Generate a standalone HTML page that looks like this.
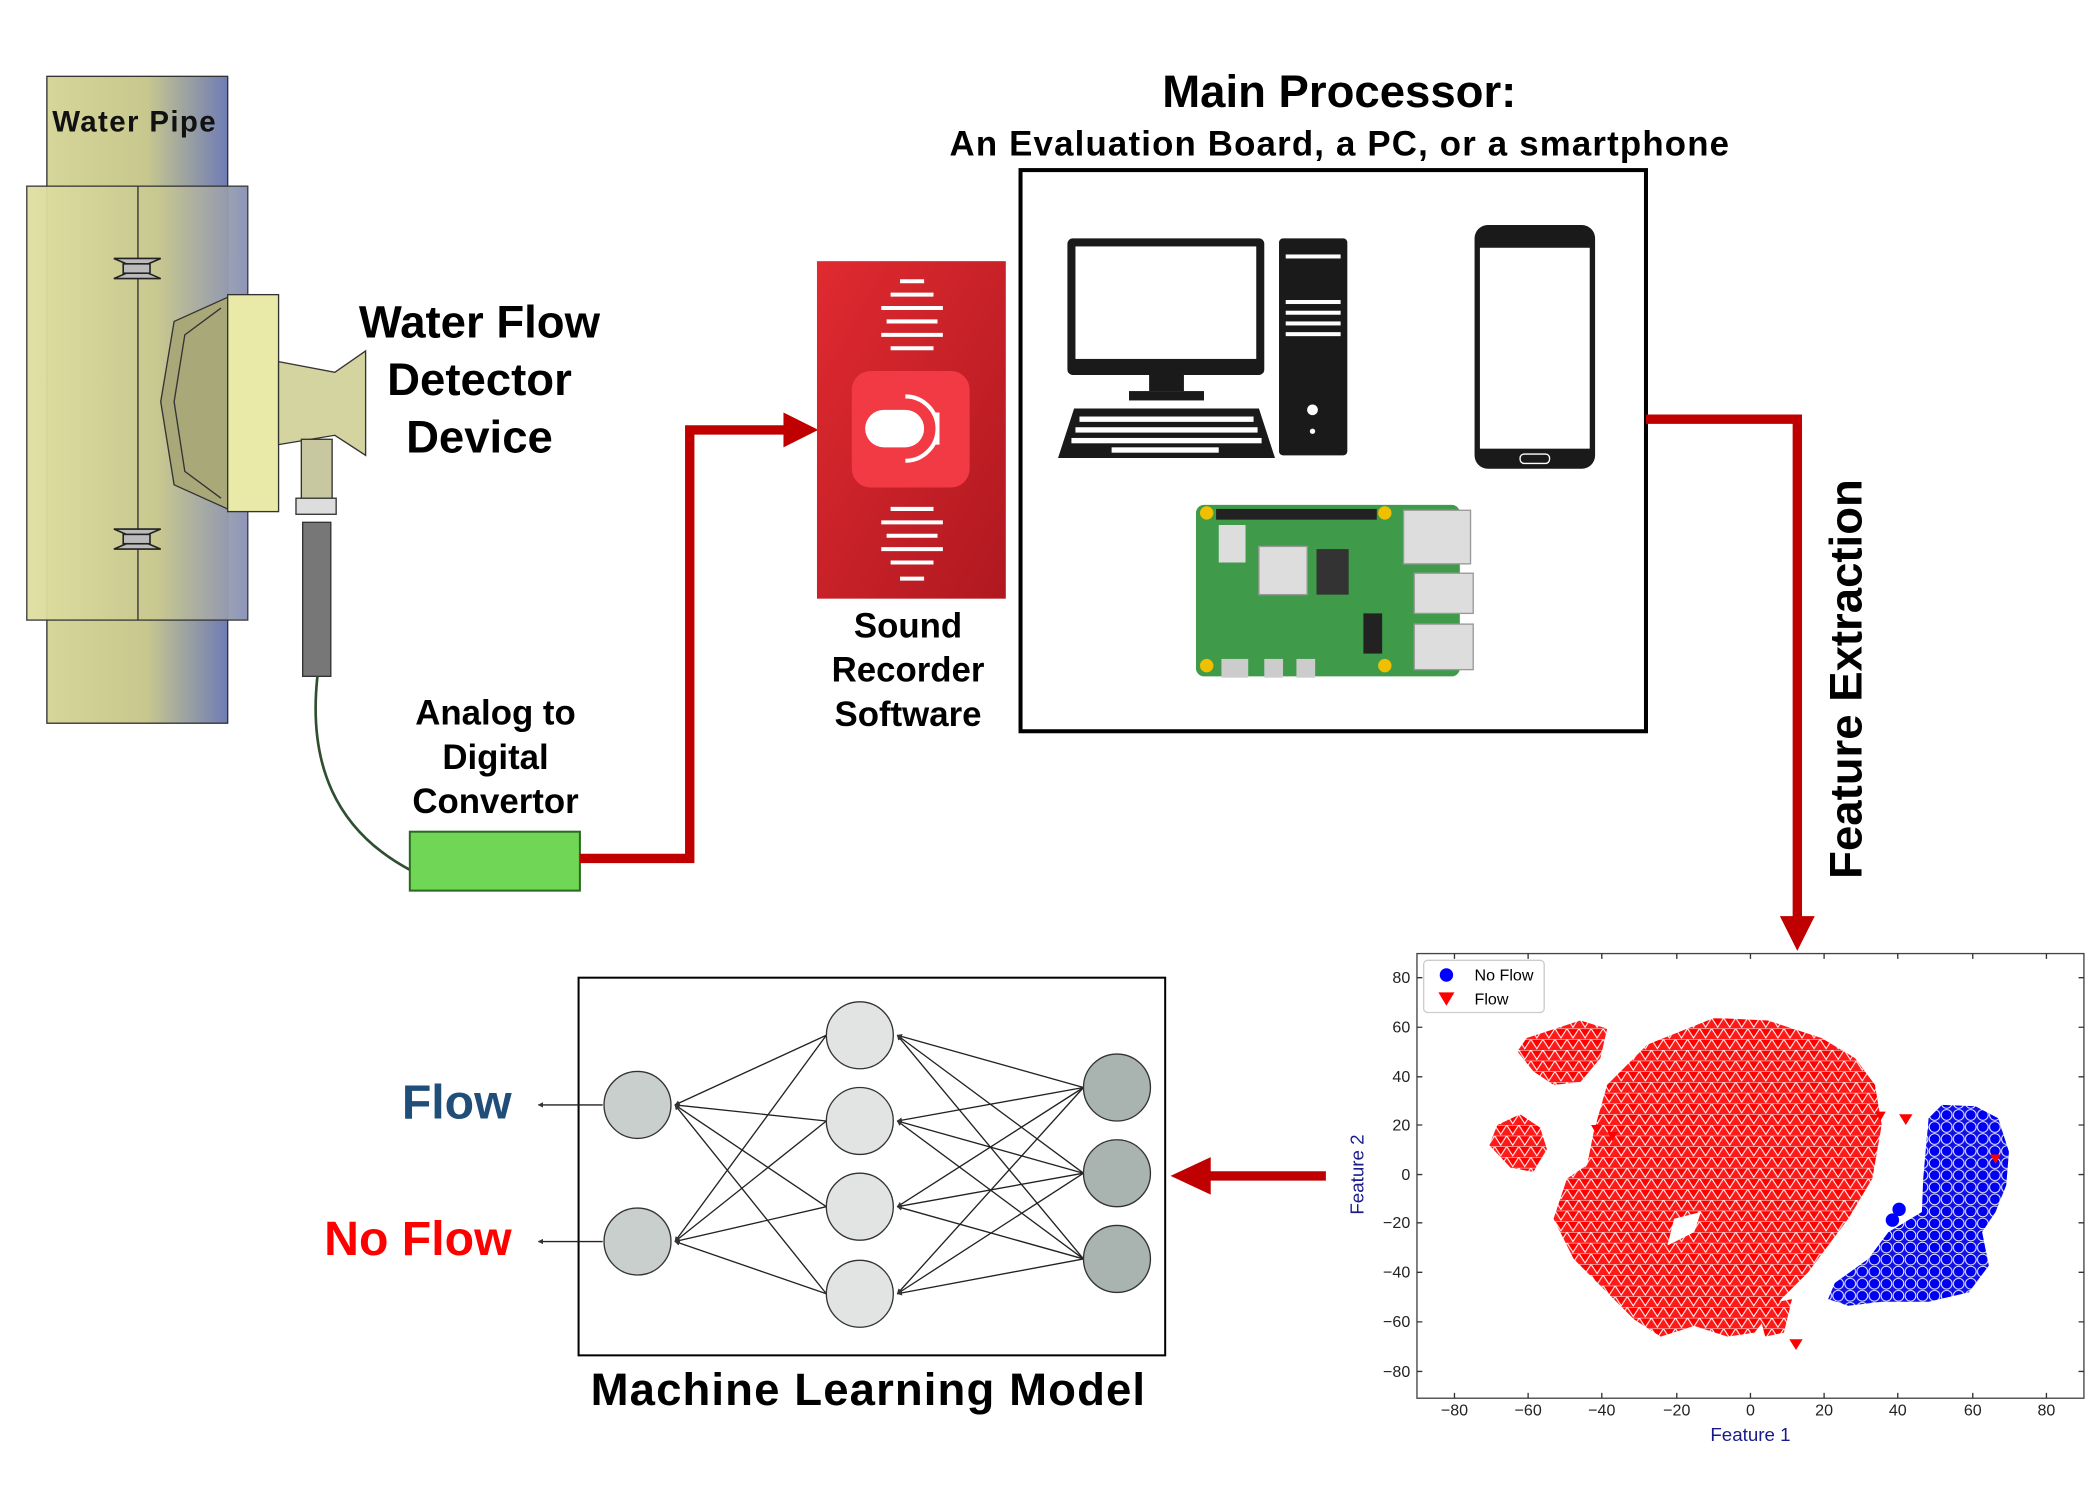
<!DOCTYPE html>
<html><head><meta charset="utf-8"><style>
html,body{margin:0;padding:0;background:#fff;}
svg{display:block;}
text{font-family:"Liberation Sans",Arial,sans-serif;}
</style></head><body>
<svg width="2100" height="1500" viewBox="0 0 1568 1120" preserveAspectRatio="none" xmlns="http://www.w3.org/2000/svg">
<defs>
<linearGradient id="pipe" x1="0" x2="1" y1="0" y2="0">
<stop offset="0" stop-color="#d6d69a"/><stop offset="0.55" stop-color="#c8c88e"/><stop offset="1" stop-color="#6f7cb5"/>
</linearGradient>
<linearGradient id="clamp" x1="0" x2="1"><stop offset="0" stop-color="#e0e0a2"/><stop offset="0.6" stop-color="#c8c890"/><stop offset="1" stop-color="#8890b8"/></linearGradient>
<linearGradient id="redbox" x1="0" x2="1" y1="0" y2="1"><stop offset="0" stop-color="#e02a30"/><stop offset="1" stop-color="#b01820"/></linearGradient>
<pattern id="tri" width="9" height="8" patternUnits="userSpaceOnUse">
<rect width="9" height="8" fill="#ff1a1a"/><path d="M0 0 L9 0 L4.5 7 Z" fill="#f00" stroke="#fff" stroke-width="0.8"/>
</pattern>
<pattern id="circ" width="9" height="9" patternUnits="userSpaceOnUse">
<rect width="9" height="9" fill="#1010e8"/><circle cx="4.5" cy="4.5" r="4" fill="#0000f0" stroke="#fff" stroke-width="0.7"/>
</pattern>
<marker id="ah" markerWidth="4" markerHeight="4" refX="3.5" refY="2" orient="auto" markerUnits="strokeWidth"><path d="M0 0 L4 2 L0 4Z" fill="#333"/></marker>
</defs>

<!-- Water pipe -->
<rect x="35" y="57" width="135" height="483" fill="url(#pipe)" stroke="#333" stroke-width="1"/>
<rect x="20" y="139" width="165" height="324" fill="url(#clamp)" stroke="#333" stroke-width="1" opacity="0.95"/>
<line x1="103" y1="139" x2="103" y2="463" stroke="#333" stroke-width="1"/>
<text x="39" y="98" font-size="22" fill="#111" font-weight="bold" textLength="122">Water Pipe</text>
<g stroke="#222" fill="#bbb" stroke-width="1.2">
<path d="M85 193 L120 208 L85 208 L120 193 Z"/><rect x="92" y="197" width="20" height="7"/>
<path d="M85 395 L120 410 L85 410 L120 395 Z"/><rect x="92" y="399" width="20" height="7"/>
</g>
<!-- detector -->
<path d="M170 222 L130 240 L120 300 L130 362 L170 380 Z" fill="#a8a878" stroke="#333"/>
<path d="M165 230 L138 250 L130 300 L138 352 L165 372" fill="none" stroke="#333"/>
<rect x="170" y="220" width="38" height="162" fill="#eaeaa8" stroke="#333"/>
<path d="M208 270 L250 278 L273 262 L273 340 L250 325 L208 332 Z" fill="#d4d4a0" stroke="#333"/>
<rect x="225" y="328" width="23" height="52" fill="#c8c8a0" stroke="#333"/>
<rect x="221" y="372" width="30" height="12" fill="#ddd" stroke="#333"/>
<rect x="226" y="390" width="21" height="115" fill="#777" stroke="#333"/>
<path d="M237 505 C230 570 250 620 307 650" fill="none" stroke="#2f4f2f" stroke-width="2"/>
<text font-size="34" font-weight="bold" text-anchor="middle" fill="#000"><tspan x="358" y="252">Water Flow</tspan><tspan x="358" y="295">Detector</tspan><tspan x="358" y="338">Device</tspan></text>
<text font-size="26" font-weight="bold" text-anchor="middle" fill="#000"><tspan x="370" y="541">Analog to</tspan><tspan x="370" y="574">Digital</tspan><tspan x="370" y="607">Convertor</tspan></text>
<rect x="306" y="621" width="127" height="44" fill="#6fd656" stroke="#2a6a20" stroke-width="1.5"/>
<!-- red connector 1 -->
<polyline points="433,641 515,641 515,321 588,321" fill="none" stroke="#c00000" stroke-width="7"/>
<path d="M585 308 L611 321 L585 334 Z" fill="#c00000"/>
<!-- sound recorder -->
<rect x="610" y="195" width="141" height="252" fill="url(#redbox)"/>
<rect x="636" y="277" width="88" height="87" rx="14" fill="#f23a44"/>
<rect x="646" y="306" width="44" height="28" rx="14" fill="#fff"/>
<path d="M676 296 A22 22 0 0 1 676 344" fill="none" stroke="#fff" stroke-width="3"/>
<line x1="700" y1="308" x2="700" y2="332" stroke="#fff" stroke-width="3"/>
<g stroke="#fff" stroke-width="3">
<line x1="672" y1="210" x2="690" y2="210"/><line x1="665" y1="220" x2="697" y2="220"/><line x1="658" y1="230" x2="704" y2="230"/><line x1="662" y1="240" x2="700" y2="240"/><line x1="658" y1="250" x2="704" y2="250"/><line x1="665" y1="260" x2="697" y2="260"/>
<line x1="665" y1="380" x2="697" y2="380"/><line x1="658" y1="390" x2="704" y2="390"/><line x1="662" y1="400" x2="700" y2="400"/><line x1="658" y1="410" x2="704" y2="410"/><line x1="665" y1="420" x2="697" y2="420"/><line x1="672" y1="432" x2="690" y2="432"/>
</g>
<text font-size="26" font-weight="bold" text-anchor="middle" fill="#000"><tspan x="678" y="476">Sound</tspan><tspan x="678" y="509">Recorder</tspan><tspan x="678" y="542">Software</tspan></text>
<!-- main processor -->
<text x="1000" y="80" font-size="34" font-weight="bold" text-anchor="middle">Main Processor:</text>
<text x="1000" y="116" font-size="26" text-anchor="middle" font-weight="bold" textLength="582">An Evaluation Board, a PC, or a smartphone</text>
<rect x="762" y="127" width="467" height="419" fill="#fff" stroke="#000" stroke-width="3"/>
<rect x="797" y="178" width="147" height="102" rx="4" fill="#1a1a1a"/>
<rect x="803" y="184" width="135" height="84" fill="#fff"/>
<rect x="858" y="280" width="26" height="12" fill="#1a1a1a"/><rect x="843" y="292" width="56" height="7" fill="#1a1a1a"/>
<path d="M802 305 L940 305 L952 342 L790 342 Z" fill="#1a1a1a"/>
<g fill="#fff"><rect x="806" y="311" width="130" height="4"/><rect x="803" y="319" width="136" height="4"/><rect x="800" y="327" width="142" height="4"/><rect x="830" y="334" width="80" height="4"/></g>
<rect x="955" y="178" width="51" height="162" rx="3" fill="#1a1a1a"/>
<g fill="#fff"><rect x="960" y="190" width="41" height="3"/><rect x="960" y="224" width="41" height="3"/><rect x="960" y="232" width="41" height="3"/><rect x="960" y="240" width="41" height="3"/><rect x="960" y="248" width="41" height="3"/><circle cx="980" cy="306" r="4"/><circle cx="980" cy="322" r="2"/></g>
<rect x="1101" y="168" width="90" height="182" rx="10" fill="#1a1a1a"/>
<rect x="1105" y="185" width="82" height="150" fill="#fff"/>
<rect x="1135" y="339" width="22" height="7" rx="3" fill="none" stroke="#fff"/>
<rect x="893" y="377" width="197" height="128" rx="6" fill="#3f9a4a"/>
<rect x="908" y="380" width="120" height="8" fill="#222"/>
<rect x="940" y="408" width="36" height="36" fill="#ddd" stroke="#999"/>
<rect x="983" y="410" width="24" height="34" fill="#333"/>
<rect x="1048" y="381" width="50" height="40" fill="#ddd" stroke="#999"/>
<rect x="1056" y="428" width="44" height="30" fill="#ddd" stroke="#999"/>
<rect x="1056" y="466" width="44" height="34" fill="#ddd" stroke="#999"/>
<rect x="910" y="392" width="20" height="28" fill="#ddd"/>
<rect x="1018" y="458" width="14" height="30" fill="#222"/>
<g fill="#f0c000"><circle cx="901" cy="383" r="5"/><circle cx="1034" cy="383" r="5"/><circle cx="901" cy="497" r="5"/><circle cx="1034" cy="497" r="5"/></g>
<g fill="#ccc"><rect x="912" y="492" width="20" height="14"/><rect x="944" y="492" width="14" height="14"/><rect x="968" y="492" width="14" height="14"/></g>
<!-- red connector 2 -->
<polyline points="1229,313 1342,313 1342,688" fill="none" stroke="#c00000" stroke-width="7"/>
<path d="M1329 684 L1342 710 L1355 684 Z" fill="#c00000"/>
<text transform="translate(1390,507) rotate(-90)" font-size="34" font-weight="bold" text-anchor="middle">Feature Extraction</text>
<!-- scatter -->
<rect x="1058" y="712" width="498" height="332" fill="#fff" stroke="#444" stroke-width="1"/>
<g stroke="#333" stroke-width="1">
<path d="M1086 1044v-4M1141 1044v-4M1196 1044v-4M1252 1044v-4M1307 1044v-4M1362 1044v-4M1417 1044v-4M1473 1044v-4M1528 1044v-4"/>
<path d="M1086 712v4M1141 712v4M1196 712v4M1252 712v4M1307 712v4M1362 712v4M1417 712v4M1473 712v4M1528 712v4"/>
<path d="M1058 730h4M1058 767h4M1058 804h4M1058 840h4M1058 877h4M1058 913h4M1058 950h4M1058 987h4M1058 1024h4"/>
<path d="M1556 730h-4M1556 767h-4M1556 804h-4M1556 840h-4M1556 877h-4M1556 913h-4M1556 950h-4M1556 987h-4M1556 1024h-4"/>
</g>
<g font-size="12" fill="#222" text-anchor="middle">
<text x="1086" y="1057">−80</text><text x="1141" y="1057">−60</text><text x="1196" y="1057">−40</text><text x="1252" y="1057">−20</text><text x="1307" y="1057">0</text><text x="1362" y="1057">20</text><text x="1417" y="1057">40</text><text x="1473" y="1057">60</text><text x="1528" y="1057">80</text>
</g>
<g font-size="12" fill="#222" text-anchor="end">
<text x="1053" y="734">80</text><text x="1053" y="771">60</text><text x="1053" y="808">40</text><text x="1053" y="844">20</text><text x="1053" y="881">0</text><text x="1053" y="917">−20</text><text x="1053" y="954">−40</text><text x="1053" y="991">−60</text><text x="1053" y="1028">−80</text>
</g>
<text x="1307" y="1076" font-size="14" fill="#1a1a8c" text-anchor="middle">Feature 1</text>
<text transform="translate(1018,877) rotate(-90)" font-size="14" fill="#1a1a8c" text-anchor="middle">Feature 2</text>
<rect x="1063" y="717" width="90" height="39" rx="3" fill="#fff" stroke="#ccc"/>
<circle cx="1080" cy="728" r="5" fill="#00f"/><path d="M1074 741 L1086 741 L1080 751 Z" fill="#f00"/>
<text x="1101" y="732" font-size="12">No Flow</text><text x="1101" y="750" font-size="12">Flow</text>
<g fill="url(#tri)">
<path d="M1140 775 L1180 762 L1200 768 L1195 790 L1180 808 L1160 810 L1145 800 L1133 785 Z"/>
<path d="M1118 840 L1135 832 L1150 842 L1155 858 L1145 875 L1128 872 L1112 855 Z"/>
<path d="M1200 810 L1230 780 L1280 760 L1320 762 L1360 775 L1385 790 L1400 810 L1405 840 L1398 880 L1380 910 L1350 950 L1330 970 L1310 995 L1290 998 L1265 990 L1240 998 L1220 985 L1195 960 L1175 940 L1160 910 L1170 880 L1185 870 L1190 845 Z"/>
<path d="M1312 975 L1338 970 L1332 995 L1318 998 Z"/>
</g>
<path d="M1250 910 L1270 905 L1265 920 L1245 930 Z" fill="#fff"/>
<g fill="#f00"><path d="M1188 840 L1196 840 L1192 847Z"/><path d="M1200 845 L1208 845 L1204 852Z"/><path d="M1400 830 L1408 830 L1404 837Z"/></g>
<g fill="url(#circ)">
<path d="M1440 835 L1450 825 L1475 826 L1492 835 L1500 860 L1498 885 L1490 905 L1480 920 L1485 945 L1470 965 L1440 972 L1405 972 L1380 975 L1365 970 L1370 958 L1395 940 L1410 920 L1435 905 L1436 880 Z"/>
</g>
<circle cx="1418" cy="903" r="5" fill="#00f"/><circle cx="1413" cy="911" r="5" fill="#00f"/>
<path d="M1418 832 L1428 832 L1423 840 Z" fill="#f00"/><path d="M1336 1000 L1346 1000 L1341 1008 Z" fill="#f00"/>
<path d="M1486 862 L1494 862 L1490 869 Z" fill="#f00"/>
<!-- red arrow left -->
<line x1="990" y1="878" x2="900" y2="878" stroke="#c00000" stroke-width="7"/>
<path d="M904 864 L874 878 L904 892 Z" fill="#c00000"/>
<!-- NN -->
<rect x="432" y="730" width="438" height="282" fill="#fff" stroke="#000" stroke-width="1.5"/>
<g stroke="#222" stroke-width="1" marker-end="url(#ah)">
<line x1="809" y1="812" x2="670" y2="773"/><line x1="809" y1="812" x2="670" y2="837"/><line x1="809" y1="812" x2="670" y2="901"/><line x1="809" y1="812" x2="670" y2="966"/>
<line x1="809" y1="876" x2="670" y2="773"/><line x1="809" y1="876" x2="670" y2="837"/><line x1="809" y1="876" x2="670" y2="901"/><line x1="809" y1="876" x2="670" y2="966"/>
<line x1="809" y1="940" x2="670" y2="773"/><line x1="809" y1="940" x2="670" y2="837"/><line x1="809" y1="940" x2="670" y2="901"/><line x1="809" y1="940" x2="670" y2="966"/>
<line x1="617" y1="773" x2="504" y2="825"/><line x1="617" y1="837" x2="504" y2="825"/><line x1="617" y1="901" x2="504" y2="825"/><line x1="617" y1="966" x2="504" y2="825"/>
<line x1="617" y1="773" x2="504" y2="927"/><line x1="617" y1="837" x2="504" y2="927"/><line x1="617" y1="901" x2="504" y2="927"/><line x1="617" y1="966" x2="504" y2="927"/>
<line x1="450" y1="825" x2="402" y2="825"/><line x1="450" y1="927" x2="402" y2="927"/>
</g>
<g stroke="#333" stroke-width="1">
<circle cx="476" cy="825" r="25" fill="#c8cfcc"/><circle cx="476" cy="927" r="25" fill="#c8cfcc"/>
<circle cx="642" cy="773" r="25" fill="#e2e4e3"/><circle cx="642" cy="837" r="25" fill="#e2e4e3"/><circle cx="642" cy="901" r="25" fill="#e2e4e3"/><circle cx="642" cy="966" r="25" fill="#e2e4e3"/>
<circle cx="834" cy="812" r="25" fill="#a9b4b0"/><circle cx="834" cy="876" r="25" fill="#a9b4b0"/><circle cx="834" cy="940" r="25" fill="#a9b4b0"/>
</g>
<text x="382" y="835" font-size="36" font-weight="bold" fill="#1f4e79" text-anchor="end">Flow</text>
<text x="382" y="937" font-size="36" font-weight="bold" fill="#ff0000" text-anchor="end">No Flow</text>
<text x="648" y="1049" font-size="34" font-weight="bold" text-anchor="middle" textLength="414">Machine Learning Model</text>
</svg>
</body></html>
